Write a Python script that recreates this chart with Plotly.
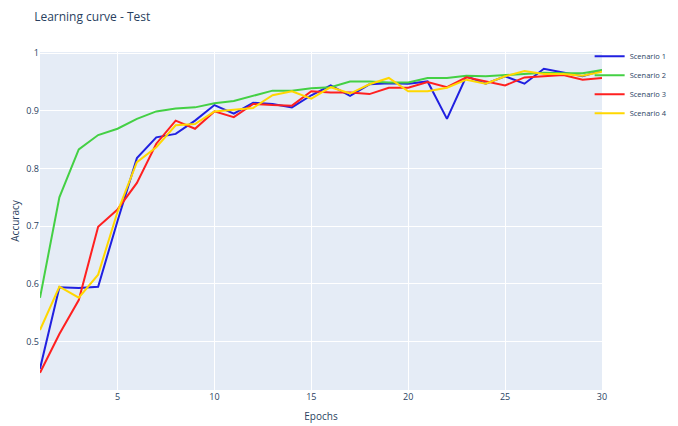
import plotly.graph_objects as go

epochs = list(range(1, 31))

scenario_1 = [0.453, 0.594, 0.593, 0.595, 0.709, 0.818, 0.854, 0.860, 0.883, 0.910,
              0.895, 0.914, 0.912, 0.906, 0.927, 0.944, 0.926, 0.946, 0.948, 0.947,
              0.951, 0.886, 0.960, 0.947, 0.960, 0.947, 0.973, 0.967, 0.960, 0.970]
scenario_2 = [0.576, 0.750, 0.833, 0.858, 0.869, 0.886, 0.899, 0.904, 0.906, 0.913,
              0.917, 0.926, 0.935, 0.935, 0.939, 0.941, 0.951, 0.951, 0.949, 0.949,
              0.957, 0.957, 0.961, 0.960, 0.962, 0.965, 0.966, 0.965, 0.965, 0.971]
scenario_3 = [0.446, 0.513, 0.572, 0.699, 0.729, 0.775, 0.843, 0.883, 0.869, 0.899,
              0.889, 0.912, 0.910, 0.909, 0.934, 0.932, 0.932, 0.929, 0.940, 0.940,
              0.950, 0.941, 0.958, 0.951, 0.944, 0.958, 0.960, 0.962, 0.954, 0.957]
scenario_4 = [0.520, 0.595, 0.576, 0.616, 0.725, 0.811, 0.837, 0.875, 0.877, 0.899,
              0.902, 0.905, 0.927, 0.934, 0.921, 0.941, 0.930, 0.946, 0.957, 0.934,
              0.934, 0.940, 0.954, 0.947, 0.960, 0.969, 0.964, 0.964, 0.961, 0.968]

names = ["Scenario 1", "Scenario 2", "Scenario 3", "Scenario 4"]
series = [scenario_1, scenario_2, scenario_3, scenario_4]
colors = ["#2020e0", "#44d044", "#ff2020", "#ffd700"]

fig = go.Figure()
for name, vals, c in zip(names, series, colors):
    fig.add_trace(go.Scatter(x=epochs, y=vals, mode="lines", name=name,
                             line=dict(color=c, width=2)))

fig.update_layout(
    template="plotly",
    width=670, height=418,
    margin=dict(l=32, r=76, t=44, b=36, autoexpand=False),
    font=dict(family="Open Sans", size=9),
    title=dict(text="Learning curve - Test", x=0.039, xanchor="left",
               y=0.99, yanchor="top", pad=dict(t=0, l=0), font=dict(size=12)),
    xaxis=dict(title=dict(text="Epochs", font=dict(size=10), standoff=10),
               range=[1, 30], dtick=5, tick0=0),
    yaxis=dict(title=dict(text="Accuracy", font=dict(size=10), standoff=8),
               range=[0.416, 1.002], dtick=0.1),
    legend=dict(font=dict(size=7.5), x=0.978, xanchor="left", y=1.03, yanchor="top",
                bgcolor="rgba(0,0,0,0)", itemwidth=30),
)

fig.write_html("out.html")
